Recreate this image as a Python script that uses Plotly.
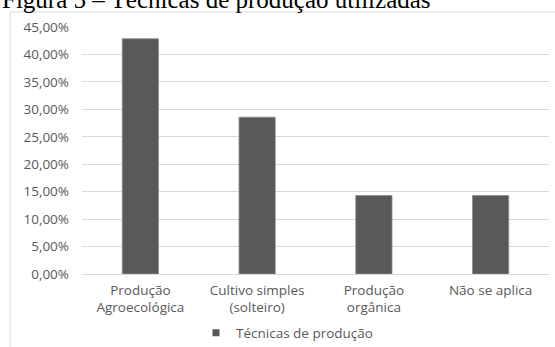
import plotly.graph_objects as go

# Share of respondents by production technique
categorias = ["Produção<br>Agroecológica", "Cultivo simples<br>(solteiro)",
              "Produção<br>orgânica", "Não se aplica"]
percentuais = [0.4286, 0.2857, 0.1429, 0.1429]
serie_nome = "Técnicas de produção"
titulo = "Figura 5 – Técnicas de produção utilizadas"

W, H = 555, 347
L, R, T, B = 82, 6, 27, 73
pw, ph = W - L - R, H - T - B
COR_BARRA = "#595959"
COR_TEXTO = "#595959"
FONTE = 13.5


def px_x(x):
    return (x - L) / pw


def px_y(y):
    return (H - B - y) / ph


fig = go.Figure()
fig.add_trace(go.Bar(
    x=categorias, y=percentuais, name=serie_nome,
    marker=dict(color=COR_BARRA, line=dict(color="#8a8a8a", width=0.8)),
    showlegend=False,
))
# legend entry with a small square key
fig.add_trace(go.Scatter(
    x=[None], y=[None], mode="markers", name=serie_nome,
    marker=dict(symbol="square", size=7, color=COR_BARRA),
    showlegend=True,
))

fig.update_layout(
    width=W, height=H,
    margin=dict(l=L, r=R, t=T, b=B, autoexpand=False),
    paper_bgcolor="white", plot_bgcolor="white",
    separators=",.",
    bargap=0.69,
    font=dict(family="Open Sans", size=FONTE, color=COR_TEXTO),
    showlegend=True,
    legend=dict(orientation="h", x=px_x(287), xanchor="center",
                y=px_y(333), yanchor="middle",
                font=dict(size=FONTE, color=COR_TEXTO),
                itemwidth=30),
    xaxis=dict(showline=False, ticks="", showgrid=False, automargin=False,
               ticklabelstandoff=6,
               tickfont=dict(size=FONTE, color=COR_TEXTO)),
    yaxis=dict(range=[0, 0.45], dtick=0.05, tickformat=".2%",
               showgrid=True, gridcolor="#d9d9d9", gridwidth=1,
               zeroline=True, zerolinecolor="#d9d9d9", zerolinewidth=1,
               showline=False, ticks="", ticklabelstandoff=12,
               automargin=False,
               tickfont=dict(size=FONTE, color=COR_TEXTO)),
    shapes=[
        # chart frame (left and top edges)
        dict(type="line", xref="paper", yref="paper",
             x0=px_x(10), x1=px_x(10), y0=px_y(12), y1=px_y(360),
             line=dict(color="#d9d9d9", width=1)),
        dict(type="line", xref="paper", yref="paper",
             x0=px_x(10), x1=px_x(570), y0=px_y(12), y1=px_y(12),
             line=dict(color="#d9d9d9", width=1)),
    ],
    annotations=[
        dict(text=titulo, xref="paper", yref="paper",
             x=px_x(0), y=px_y(7), xanchor="left", yanchor="bottom",
             yshift=-8, showarrow=False,
             font=dict(family="Liberation Serif", size=25, color="black")),
    ],
)

fig.write_html("out.html")
